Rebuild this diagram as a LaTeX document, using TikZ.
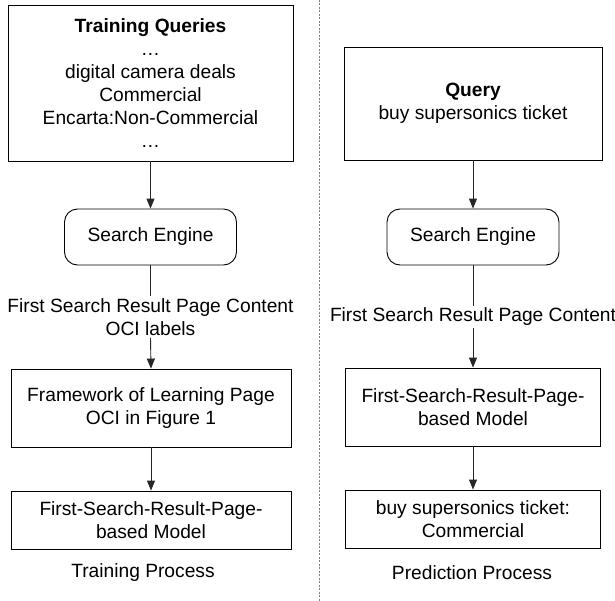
\documentclass[tikz,border=0pt]{standalone}
\usepackage{fontspec}
\setmainfont{Liberation Sans}
\usetikzlibrary{arrows.meta}
\begin{document}
\begin{tikzpicture}[x=1bp,y=-1bp,
  every node/.style={font=\fontsize{19.2bp}{23bp}\selectfont, align=center, inner sep=0pt},
  box/.style={draw=black, line width=0.9bp, minimum width=#1},
  rbox/.style={draw=black, line width=0.9bp, rounded corners=13bp, minimum width=172bp, minimum height=56bp},
  conn/.style={draw=black!85, line width=0.9bp},
  arr/.style={conn, -{Triangle[length=10bp,width=8bp]}}
]
\useasboundingbox (0,0) rectangle (615,601);
\fill[white] (0,0) rectangle (615,601);
% divider
\draw[gray, line width=0.8bp, dash pattern=on 2bp off 1.5bp] (319,0) -- (319,601);

% left column
\node[box=285bp, minimum height=156bp] (tq) at (150.5,83) {\textbf{Training Queries}\\…\\digital camera deals\\Commercial\\Encarta:Non-Commercial\\…};
\node[rbox] (se1) at (150.5,237) {Search Engine};
\node[inner sep=2bp] (l1) at (150.5,317) {First Search Result Page Content\\OCI labels};
\node[box=280bp, minimum height=78bp] (fw) at (151,408) {Framework of Learning Page\\OCI in Figure 1};
\node[box=280bp, minimum height=58bp] (m1) at (151,520) {First-Search-Result-Page-\\based Model};
\node (tp) at (143,573) {Training Process};
\draw[arr] (tq.south) -- (se1.north);
\draw[conn] (se1.south) -- (l1.north);
\draw[arr] (l1.south) -- (fw.north);
\draw[arr] (fw.south) -- (m1.north);

% right column
\node[box=258bp, minimum height=113bp] (q) at (473,103.5) {\textbf{Query}\\buy supersonics ticket};
\node[rbox] (se2) at (473,237) {Search Engine};
\node[inner sep=2bp] (l2) at (473,317) {First Search Result Page Content};
\node[box=255bp, minimum height=78bp] (m2) at (473,407) {First-Search-Result-Page-\\based Model};
\node[box=255bp, minimum height=58bp] (r) at (473,519) {buy supersonics ticket:\\Commercial};
\node (pp) at (472,573) {Prediction Process};
\draw[arr] (q.south) -- (se2.north);
\draw[conn] (se2.south) -- (l2.north);
\draw[arr] (l2.south) -- (m2.north);
\draw[arr] (m2.south) -- (r.north);
\end{tikzpicture}
\end{document}
